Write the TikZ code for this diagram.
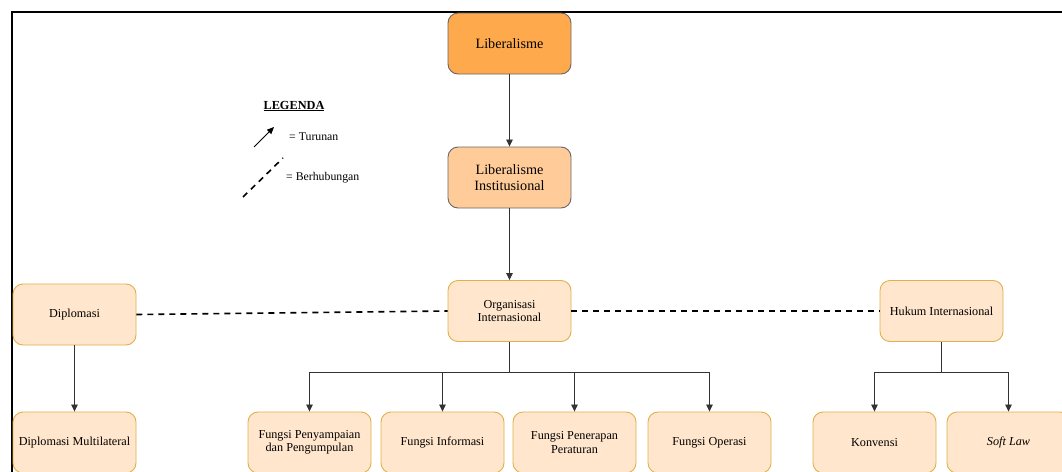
\documentclass[tikz,border=0pt]{standalone}
\usepackage{fontspec}
\setmainfont{Liberation Serif}
\usetikzlibrary{arrows.meta}
\definecolor{orangeA}{HTML}{FFA94D}
\definecolor{orangeB}{HTML}{FFCC99}
\definecolor{orangeC}{HTML}{FFE6CC}
\definecolor{goldline}{HTML}{E0B04A}
\definecolor{grayline}{HTML}{666666}
\begin{document}
\begin{tikzpicture}[x=1pt,y=-1pt,
  box/.style={rounded corners=10pt, minimum width=123pt, minimum height=61pt, inner sep=2pt, align=center},
  topbox/.style={box, draw=grayline, line width=0.9pt, font=\fontsize{14.2}{16}\selectfont},
  subbox/.style={box, draw=goldline, fill=orangeC, line width=0.9pt, font=\fontsize{12.2}{13.5}\selectfont},
  conn/.style={draw=black!80, line width=0.8pt},
  arr/.style={conn, -{Triangle[width=6.5pt,length=7pt]}},
  rel/.style={draw=black, line width=1.6pt, dash pattern=on 6pt off 5pt},
  legtext/.style={font=\fontsize{11.8}{13}\selectfont, anchor=west, inner sep=0pt}
]
\useasboundingbox (0,0) rectangle (1062,471);
% frame
\draw[line width=1.6pt] (12,490) -- (12,12) -- (1080,12);

% nodes
\node[topbox, fill=orangeA] (lib) at (509.5,43.5) {Liberalisme};
\node[topbox, fill=orangeB] (libi) at (509.5,177.5) {Liberalisme\\Institusional};
\node[subbox] (org) at (509.5,311) {Organisasi\\Internasional};
\node[subbox] (dip) at (74.5,314.5) {Diplomasi};
\node[subbox] (huk) at (941.5,311) {Hukum Internasional};

\node[subbox] (dipm) at (74.5,442.5) {Diplomasi Multilateral};
\node[subbox] (f1) at (309.5,442.5) {Fungsi Penyampaian\\dan Pengumpulan};
\node[subbox] (f2) at (442.5,442.5) {Fungsi Informasi};
\node[subbox] (f3) at (574.5,442.5) {Fungsi Penerapan\\Peraturan};
\node[subbox] (f4) at (709.5,442.5) {Fungsi Operasi};
\node[subbox] (kon) at (874.5,442.5) {Konvensi};
\node[subbox] (soft) at (1008.5,442.5) {\textit{Soft Law}};

% derivation arrows
\draw[arr] (lib.south) -- (libi.north);
\draw[arr] (libi.south) -- (org.north);
\draw[arr] (dip.south) -- (dipm.north);

\coordinate (ob) at (509.5,372);
\draw[conn] (org.south) -- (ob);
\draw[arr] (ob) -| (f1.north);
\draw[arr] (ob) -| (f2.north);
\draw[arr] (ob) -| (f3.north);
\draw[arr] (ob) -| (f4.north);

\coordinate (hb) at (941.5,372);
\draw[conn] (huk.south) -- (hb);
\draw[arr] (hb) -| (kon.north);
\draw[arr] (hb) -| (soft.north);

% relations
\draw[rel] (dip.east) -- (org.west);
\draw[rel] (org.east) -- (huk.west);

% legend
\node[font=\fontsize{12.3}{14}\selectfont\bfseries, inner sep=0pt] (leg) at (294,106) {\underline{LEGENDA}};
\coordinate (la1) at (254,147);
\coordinate (la2) at (274,127);
\draw[draw=black, line width=0.9pt, -{Triangle[width=6pt,length=7pt]}] (la1) -- (la2);
\node[legtext] (lt1) at (289,137) {= Turunan};
\coordinate (ld1) at (243,197);
\coordinate (ld2) at (283,158);
\draw[rel] (ld1) -- (ld2);
\node[legtext] (lt2) at (286,178) {= Berhubungan};
\end{tikzpicture}
\end{document}
